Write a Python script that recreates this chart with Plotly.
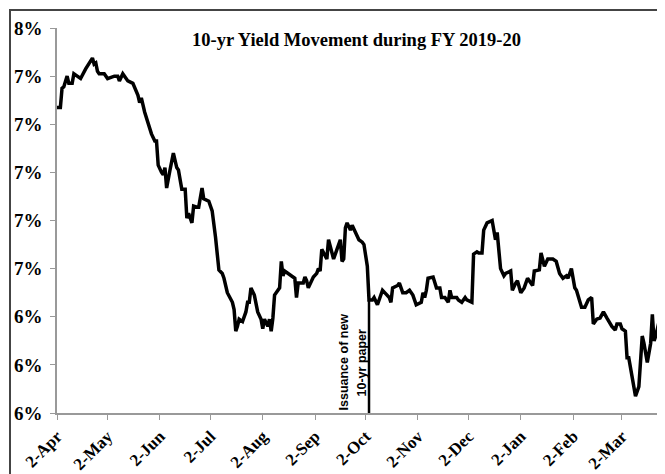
"""10-yr G-sec yield movement during FY 2019-20 (line chart)."""

import numpy as np
import plotly.graph_objects as go

# Fechas de observación y rendimiento (%)
dates = [
    "2019-04-02", "2019-04-04", "2019-04-05", "2019-04-06", "2019-04-08", "2019-04-09",
    "2019-04-11", "2019-04-12", "2019-04-14", "2019-04-16", "2019-04-19", "2019-04-23",
    "2019-04-24", "2019-04-25", "2019-04-26", "2019-04-27", "2019-04-30", "2019-05-02",
    "2019-05-06", "2019-05-08", "2019-05-09", "2019-05-11", "2019-05-14", "2019-05-17",
    "2019-05-20", "2019-05-21", "2019-05-22", "2019-05-24", "2019-05-28", "2019-05-30",
    "2019-05-31", "2019-06-01", "2019-06-03", "2019-06-04", "2019-06-05", "2019-06-06",
    "2019-06-08", "2019-06-10", "2019-06-12", "2019-06-13", "2019-06-15", "2019-06-17",
    "2019-06-18", "2019-06-19", "2019-06-21", "2019-06-22", "2019-06-24", "2019-06-25",
    "2019-06-27", "2019-06-28", "2019-07-01", "2019-07-03", "2019-07-05", "2019-07-07",
    "2019-07-09", "2019-07-10", "2019-07-12", "2019-07-15", "2019-07-16", "2019-07-17",
    "2019-07-18", "2019-07-19", "2019-07-21", "2019-07-23", "2019-07-24", "2019-07-25",
    "2019-07-26", "2019-07-28", "2019-07-30", "2019-08-01", "2019-08-02", "2019-08-03",
    "2019-08-05", "2019-08-06", "2019-08-07", "2019-08-08", "2019-08-09", "2019-08-11",
    "2019-08-12", "2019-08-13", "2019-08-14", "2019-08-15", "2019-08-17", "2019-08-19",
    "2019-08-21", "2019-08-22", "2019-08-23", "2019-08-26", "2019-08-27", "2019-08-28",
    "2019-08-29", "2019-09-01", "2019-09-03", "2019-09-04", "2019-09-05", "2019-09-06",
    "2019-09-08", "2019-09-09", "2019-09-10", "2019-09-12", "2019-09-13", "2019-09-15",
    "2019-09-17", "2019-09-18", "2019-09-19", "2019-09-20", "2019-09-21", "2019-09-23",
    "2019-09-24", "2019-09-26", "2019-09-27", "2019-09-28", "2019-09-30", "2019-10-01",
    "2019-10-03", "2019-10-04", "2019-10-06", "2019-10-07", "2019-10-09", "2019-10-10",
    "2019-10-12", "2019-10-14", "2019-10-16", "2019-10-17", "2019-10-18", "2019-10-21",
    "2019-10-22", "2019-10-24", "2019-10-26", "2019-10-28", "2019-10-30", "2019-11-01",
    "2019-11-04", "2019-11-05", "2019-11-06", "2019-11-07", "2019-11-08", "2019-11-11",
    "2019-11-13", "2019-11-15", "2019-11-16", "2019-11-18", "2019-11-20", "2019-11-21",
    "2019-11-22", "2019-11-25", "2019-11-26", "2019-11-28", "2019-11-30", "2019-12-01",
    "2019-12-04", "2019-12-05", "2019-12-07", "2019-12-08", "2019-12-10", "2019-12-11",
    "2019-12-13", "2019-12-16", "2019-12-18", "2019-12-19", "2019-12-21", "2019-12-23",
    "2019-12-24", "2019-12-27", "2019-12-28", "2019-12-30", "2019-12-31", "2020-01-02",
    "2020-01-04", "2020-01-06", "2020-01-07", "2020-01-09", "2020-01-10", "2020-01-13",
    "2020-01-14", "2020-01-15", "2020-01-16", "2020-01-18", "2020-01-21", "2020-01-23",
    "2020-01-25", "2020-01-27", "2020-01-29", "2020-01-30", "2020-02-01", "2020-02-03",
    "2020-02-04", "2020-02-07", "2020-02-09", "2020-02-11", "2020-02-13", "2020-02-14",
    "2020-02-16", "2020-02-18", "2020-02-20", "2020-02-22", "2020-02-25", "2020-02-27",
    "2020-02-28", "2020-03-01", "2020-03-02", "2020-03-04", "2020-03-05", "2020-03-06",
    "2020-03-08", "2020-03-10", "2020-03-12", "2020-03-14", "2020-03-15", "2020-03-17",
    "2020-03-19", "2020-03-20", "2020-03-21", "2020-03-22", "2020-03-24", "2020-03-26",
    "2020-03-27",
]

yields = [
    7.27, 7.27, 7.35, 7.355, 7.40, 7.37,
    7.37, 7.41, 7.40, 7.39, 7.43, 7.475,
    7.45, 7.455, 7.42, 7.41, 7.41, 7.39,
    7.40, 7.40, 7.38, 7.41, 7.38, 7.37,
    7.32, 7.29, 7.31, 7.25, 7.16, 7.13,
    7.13, 7.03, 7.00, 6.99, 7.02, 6.935,
    7.01, 7.08, 7.02, 7.01, 6.93, 6.93,
    6.81, 6.83, 6.79, 6.86, 6.855, 6.855,
    6.935, 6.89, 6.88, 6.84, 6.73, 6.594,
    6.58, 6.56, 6.50, 6.46, 6.43, 6.34,
    6.36, 6.39, 6.38, 6.42, 6.46, 6.46,
    6.52, 6.49, 6.42, 6.39, 6.35, 6.39,
    6.36, 6.39, 6.34, 6.395, 6.49, 6.51,
    6.52, 6.63, 6.57, 6.59, 6.58, 6.57,
    6.56, 6.48, 6.54, 6.54, 6.565, 6.55,
    6.52, 6.565, 6.58, 6.60, 6.59, 6.68,
    6.65, 6.64, 6.72, 6.67, 6.64, 6.68,
    6.72, 6.63, 6.64, 6.77, 6.79, 6.76,
    6.78, 6.75, 6.73, 6.72, 6.71, 6.70,
    6.61, 6.47, 6.47, 6.48, 6.45, 6.47,
    6.51, 6.495, 6.48, 6.46, 6.52, 6.53,
    6.54, 6.50, 6.50, 6.51, 6.49, 6.45,
    6.46, 6.50, 6.48, 6.51, 6.56, 6.565,
    6.52, 6.52, 6.48, 6.48, 6.46, 6.51,
    6.48, 6.48, 6.47, 6.46, 6.48, 6.47,
    6.46, 6.66, 6.67, 6.665, 6.665, 6.76,
    6.79, 6.80, 6.72, 6.75, 6.60, 6.57,
    6.58, 6.59, 6.51, 6.54, 6.55, 6.50,
    6.52, 6.56, 6.55, 6.53, 6.59, 6.595,
    6.665, 6.63, 6.61, 6.64, 6.64, 6.63,
    6.58, 6.56, 6.57, 6.56, 6.60, 6.52,
    6.51, 6.44, 6.44, 6.47, 6.48, 6.37,
    6.39, 6.395, 6.42, 6.395, 6.36, 6.345,
    6.37, 6.37, 6.35, 6.34, 6.23, 6.23,
    6.15, 6.07, 6.11, 6.32, 6.29, 6.21,
    6.29, 6.41, 6.30, 6.32, 6.38, 6.26,
    6.17,
]

# Ejes
month_ticks = [
    "2019-04-02", "2019-05-02", "2019-06-02", "2019-07-02", "2019-08-02", "2019-09-02",
    "2019-10-02", "2019-11-02", "2019-12-02", "2020-01-02", "2020-02-02", "2020-03-02",
]
y_ticks = np.round(np.arange(6.0, 7.61, 0.2), 1)
y_ticktext = [f"{v:.0f}%" for v in y_ticks]

# Evento: emisión del nuevo bono a 10 años
issue_date = "2019-10-04"
issue_yield = 6.47
issue_lines = ["Issuance of new", "10-yr paper"]

fig = go.Figure()

fig.add_trace(
    go.Scatter(
        x=dates,
        y=yields,
        mode="lines",
        line=dict(color="black", width=3.5),
        hovertemplate="%{x|%d-%b-%Y}: %{y:.2f}%<extra></extra>",
        showlegend=False,
    )
)

# Línea vertical en la fecha de emisión
fig.add_shape(
    type="line",
    xref="x", yref="y",
    x0=issue_date, x1=issue_date,
    y0=6.0, y1=issue_yield,
    line=dict(color="black", width=2.5),
)

# Texto vertical (una anotación por renglón)
for texto, desplazamiento in zip(issue_lines, [-25, -7]):
    fig.add_annotation(
        x=issue_date, y=6.21,
        xref="x", yref="y",
        xanchor="center", yanchor="middle",
        xshift=desplazamiento,
        text=texto,
        textangle=-90,
        showarrow=False,
        font=dict(family="Liberation Sans", size=12.5, color="black", weight="bold"),
    )

# Título dentro del gráfico
fig.add_annotation(
    x=0.493, y=0.969,
    xref="paper", yref="paper",
    xanchor="center", yanchor="middle",
    text="<b>10-yr Yield Movement during FY 2019-20</b>",
    showarrow=False,
    font=dict(family="Liberation Serif", size=18.5, color="black"),
)

# Marco exterior
fig.add_shape(
    type="rect",
    xref="paper", yref="paper",
    x0=-0.0773, x1=1.1, y0=-0.4, y1=1.0468,
    line=dict(color="#444444", width=2),
    layer="below",
)

# La página añade 8 px de margen al cuerpo: la figura se ajusta a la ventana
fig.update_layout(
    width=657,
    height=466,
    margin=dict(l=49, r=0, t=20, b=61, autoexpand=False),
    paper_bgcolor="white",
    plot_bgcolor="white",
    showlegend=False,
    xaxis=dict(
        type="date",
        range=["2019-04-02", "2020-03-27 12:00"],
        tickvals=month_ticks,
        tickformat="%-d-%b",
        tickangle=-45,
        ticks="outside",
        ticklen=5,
        tickcolor="#999999",
        showline=True,
        linecolor="#999999",
        linewidth=1.5,
        showgrid=False,
        zeroline=False,
        automargin=False,
        tickfont=dict(family="Liberation Serif", size=17, color="black", weight="bold"),
    ),
    yaxis=dict(
        range=[6.0, 7.6],
        tickvals=y_ticks,
        ticktext=y_ticktext,
        ticks="outside",
        ticklen=5,
        tickcolor="#999999",
        showline=True,
        linecolor="#999999",
        linewidth=1.5,
        showgrid=False,
        zeroline=False,
        automargin=False,
        ticklabelstandoff=4,
        tickfont=dict(family="Liberation Serif", size=19, color="black", weight="bold"),
    ),
)

fig.write_html("out.html")
